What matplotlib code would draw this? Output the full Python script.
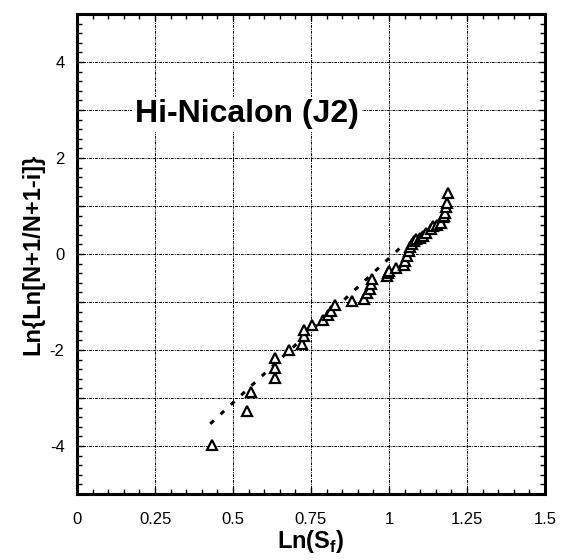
import matplotlib
matplotlib.use('Agg')
import matplotlib.pyplot as plt
from matplotlib.ticker import MultipleLocator, FuncFormatter
import numpy as np

plt.rcParams['font.family'] = ['Liberation Sans', 'DejaVu Sans']
plt.rcParams['mathtext.fontset'] = 'custom'
plt.rcParams['mathtext.rm'] = 'Liberation Sans'
plt.rcParams['mathtext.bf'] = 'Liberation Sans:bold'

# Weibull plot data
ln_sf = [0.432, 0.545, 0.556, 0.634, 0.634, 0.636, 0.681, 0.720, 0.727, 0.728,
         0.754, 0.788, 0.805, 0.813, 0.827, 0.883, 0.920, 0.931, 0.938, 0.943,
         0.945, 0.993, 0.998, 1.000, 1.022, 1.047, 1.051, 1.057, 1.063, 1.068,
         1.073, 1.081, 1.088, 1.099, 1.108, 1.120, 1.134, 1.140, 1.155, 1.166,
         1.172, 1.176, 1.180, 1.183, 1.185, 1.188]
ln_ln = [-3.99, -3.28, -2.87, -2.58, -2.37, -2.16, -2.00, -1.87, -1.70, -1.59,
         -1.48, -1.38, -1.27, -1.19, -1.07, -0.97, -0.93, -0.82, -0.74, -0.63,
         -0.53, -0.46, -0.39, -0.35, -0.29, -0.24, -0.15, -0.04, 0.06, 0.14,
         0.21, 0.27, 0.31, 0.34, 0.37, 0.43, 0.51, 0.58, 0.61, 0.65,
         0.76, 0.80, 0.86, 0.97, 1.07, 1.28]

# linear fit (Weibull modulus) drawn as dotted line
fit_slope = 6.02
fit_intercept = -6.11
fit_x = [0.427, 1.05]

fig = plt.figure(figsize=(5.67, 5.60), dpi=100)
ax = fig.add_axes([0.136, 0.118, 0.825, 0.857])

ax.plot(ln_sf, ln_ln, linestyle='none', marker='^', markersize=7.5,
        markerfacecolor='white', markeredgecolor='black', markeredgewidth=1.6,
        zorder=3)
fx = np.array(fit_x)
ax.plot(fx, fit_slope * fx + fit_intercept, color='black', lw=2.2,
        linestyle=(0, (1.6, 3.0)), zorder=2)

ax.set_xlim(0, 1.5)
ax.set_ylim(-5, 5)
ax.xaxis.set_major_locator(MultipleLocator(0.25))
ax.xaxis.set_minor_locator(MultipleLocator(0.05))
ax.yaxis.set_major_locator(MultipleLocator(1))
ax.yaxis.set_minor_locator(MultipleLocator(0.2))
ax.xaxis.set_major_formatter(FuncFormatter(lambda v, p: f'{v:g}'))
ax.yaxis.set_major_formatter(
    FuncFormatter(lambda v, p: f'{int(round(v))}' if round(v) % 2 == 0 and abs(v) < 5 else ''))

ax.grid(True, which='major', color='black', lw=0.7, linestyle=(0, (3, 1, 1, 1)))
ax.tick_params(which='both', direction='in', top=True, right=True,
               labelsize=12, width=1.0)
ax.tick_params(which='major', length=5)
ax.tick_params(which='minor', length=3.5)
ax.tick_params(axis='x', which='major', pad=13)
ax.tick_params(axis='y', which='major', pad=9)
for s in ax.spines.values():
    s.set_linewidth(2.2)

ax.set_xlabel(r'Ln(S$_\mathbf{f}$)', fontsize=17, fontweight='bold', labelpad=1)
ax.set_ylabel('Ln{Ln[N+1/N+1-i]}', fontsize=17, fontweight='bold', labelpad=4)
ax.text(0.186, 2.74, 'Hi-Nicalon (J2)', fontsize=23, fontweight='bold',
        va='baseline', ha='left', zorder=4,
        bbox=dict(facecolor='white', edgecolor='none', pad=2))

fig.savefig('out.png', dpi=100)
